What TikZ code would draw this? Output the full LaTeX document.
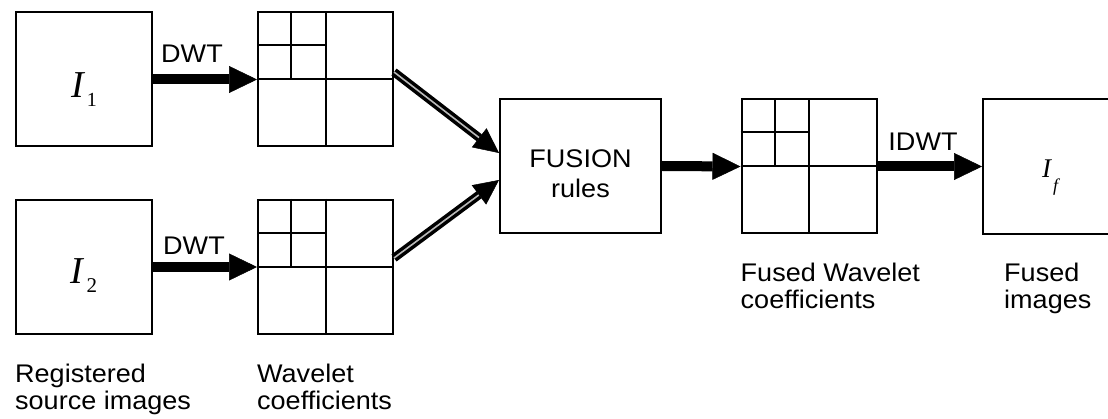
\documentclass[tikz,border=0pt]{standalone}
\usepackage{fontspec}
\setmainfont{Liberation Sans}[FakeStretch=1.06]
\newfontfamily\tfont{Liberation Serif}
\usetikzlibrary{arrows.meta,calc}
\tikzset{
  frame/.style={draw, line width=2pt, inner sep=0pt},
  imgbox/.style={frame, minimum width=136pt, minimum height=134pt},
  coefbox/.style={frame, minimum width=135pt, minimum height=134pt},
  lab/.style={font=\fontsize{25.5}{27}\selectfont, align=left, inner sep=0pt},
  grid line/.style={line width=2pt},
  fat arrow/.style={line width=10pt, -{Triangle[length=28pt,width=27pt,line width=0.5pt]}},
  dbl arrow/.style={line width=3.5pt, double=gray!55, double distance=1.6pt,
    -{Triangle[length=25pt,width=24pt,line width=0.5pt]}},
}
\begin{document}
\begin{tikzpicture}[x=1pt,y=-1pt]
\useasboundingbox (0,0) rectangle (1108,419);
% boxes
\node[imgbox] (i1) at (84,79.5) {\raisebox{-18pt}[0pt][0pt]{{\tfont\fontsize{38}{38}\selectfont\itshape I}\kern3pt\raisebox{-9pt}{\tfont\fontsize{20}{20}\selectfont 1}}};
\node[imgbox] (i2) at (84,267) {\raisebox{-17pt}[0pt][0pt]{{\tfont\fontsize{38}{38}\selectfont\itshape I}\kern3pt\raisebox{-9pt}{\tfont\fontsize{21}{21}\selectfont 2}}};
\node[coefbox] (w1) at (325.5,79.5) {};
\node[coefbox] (w2) at (325.5,267) {};
\node[frame, minimum width=161pt, minimum height=134pt] (fu) at (580.5,166) {};
\node[lab, align=center, font=\fontsize{25.5}{30}\selectfont] (futext) at ([yshift=-7.5pt]fu.center) {FUSION\\rules};
\node[coefbox] (w3) at (809,166.5) {};
\node[frame, minimum width=134pt, minimum height=135pt] (f) at (1050,166.5)
  {\raisebox{-11.5pt}[0pt][0pt]{{\tfont\fontsize{27}{27}\selectfont\itshape I}\kern2pt\raisebox{-13.5pt}{\tfont\fontsize{18}{18}\selectfont\itshape f}}};
% wavelet subdivisions
\foreach \w in {w1,w2,w3}{
  \draw[grid line] (\w.north) -- (\w.south);
  \draw[grid line] (\w.west) -- (\w.east);
  \draw[grid line] ($(\w.north west)!0.5!(\w.north)$) -- ($(\w.west)!0.5!(\w.center)$);
  \draw[grid line] ($(\w.north west)!0.5!(\w.west)$) -- ($(\w.north)!0.5!(\w.center)$);
}
% arrows
\draw[fat arrow] (i1.east) -- (w1.west);
\draw[fat arrow] (i2.east) -- (w2.west);
\draw[fat arrow] (fu.east) -- (w3.west);
\draw[fat arrow] (w3.east) -- (f.west);
\draw[dbl arrow] ([yshift=7.5pt]w1.east) -- ([yshift=13pt]fu.west);
\draw[dbl arrow] ([yshift=9pt]w2.east) -- ([yshift=-14pt]fu.west);
% arrow labels
\node[lab] (dwt1) at (192,54) {DWT};
\node[lab] (dwt2) at (194,246) {DWT};
\node[lab] (idwt) at (923,142) {IDWT};
% captions
\node[lab, anchor=north west] (cap1) at ([yshift=-29pt]i2.south west) {Registered\\source images};
\node[lab, anchor=north west] (cap2) at ([yshift=-29pt]w2.south west) {Wavelet\\coefficients};
\node[lab, anchor=north west] (cap3) at ([yshift=-28pt]w3.south west) {Fused Wavelet\\coefficients};
\node[lab, anchor=north west] (cap4) at ([xshift=22pt,yshift=-28pt]f.south west) {Fused\\images};
\end{tikzpicture}
\end{document}
